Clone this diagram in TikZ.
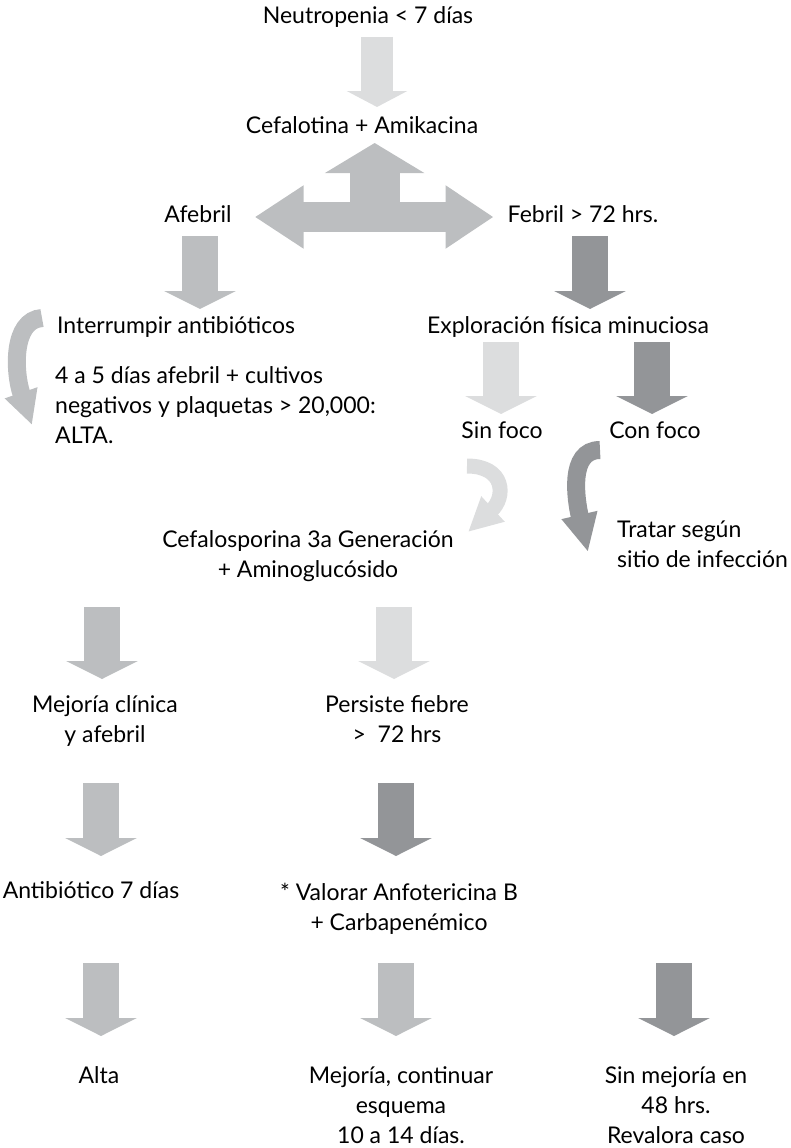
\documentclass[tikz,border=0pt]{standalone}
\usepackage{fontspec}
\setmainfont{Lato}
\usetikzlibrary{arrows.meta,positioning,calc}

\definecolor{grisclaro}{HTML}{DCDDDE}
\definecolor{grismedio}{HTML}{BCBEC0}
\definecolor{grisoscuro}{HTML}{939598}

\begin{document}
\begin{tikzpicture}[x=1pt, y=-1pt,
    texto/.style={inner sep=0pt, font=\fontsize{23}{30}\selectfont, anchor=base},
    bloque/.style={line width=36pt, -{Triangle[width=71pt,length=18pt]}},
    curva/.style={line width=16pt, -{Triangle[width=32pt,length=34pt]}}
]
    \useasboundingbox (0,0) rectangle (791,1148);

    % Texts (multi-line nodes sit on their last line)
    \node[texto] (neutro) at (368,24) {Neutropenia < 7 días};
    \node[texto] (cefa) at (362,133) {Cefalotina + Amikacina};
    \node[texto] (afebril) at (198,222) {Afebril};
    \node[texto] (febril) at (583,222) {Febril > 72 hrs.};
    \node[texto, anchor=base west] (interrumpir) at (57,333) {Interrumpir antibióticos};
    \node[texto] (exploracion) at (568,333) {Exploración física minuciosa};
    \node[texto, anchor=base west, align=left] (altauno) at (55,443) {4 a 5 días afebril + cultivos\\negativos y plaquetas > 20,000:\\ALTA.};
    \node[texto] (sinfoco) at (502,438) {Sin foco};
    \node[texto] (confoco) at (655,438) {Con foco};
    \node[texto, anchor=base west, align=left] (tratar) at (617,567) {Tratar según\\sitio de infección};
    \node[texto, align=center] (cefalosporina) at (308,577) {Cefalosporina 3a Generación\\+ Aminoglucósido};
    \node[texto, align=center] (mejoria) at (105,742) {Mejoría clínica\\y afebril};
    \node[texto, align=center] (persiste) at (397,742) {Persiste fiebre\\>~~72 hrs};
    \node[texto] (antibiotico) at (91,898) {Antibiótico 7 días};
    \node[texto, align=center] (valorar) at (399,930) {* Valorar Anfotericina B\\+ Carbapenémico};
    \node[texto] (alta) at (99,1083) {Alta};
    \node[texto, align=center] (continuar) at (401,1143) {Mejoría, continuar\\esquema\\10 a 14 días.};
    \node[texto, align=center] (sinmejoria) at (676,1143) {Sin mejoría en\\48 hrs.\\Revalora caso};

    % Top arrow
    \draw[bloque, grisclaro, line width=32pt, -{Triangle[width=60pt,length=16pt]}, shorten <=13pt, shorten >=26pt]
        ([xshift=9pt]neutro.base) -- ([xshift=9pt]neutro.base |- cefa.base);

    % T arrow
    \draw[grismedio, line width=30pt, {Triangle[width=60pt,length=49pt]}-{Triangle[width=60pt,length=48pt]}, shorten <=23pt, shorten >=14pt]
        ([yshift=5pt]afebril.base east) -- ([yshift=5pt]febril.base west);
    \coordinate (cruce) at ($(afebril.base east)!0.5!(febril.base west)+(5,-5)$);
    \draw[grismedio, line width=50pt, -{Triangle[width=98pt,length=30pt]}, shorten >=10pt]
        (cruce) -- (cruce |- cefa.base);

    % Straight arrows
    \draw[bloque, grismedio, shorten <=14pt, shorten >=24pt]
        ([xshift=2pt]afebril.base) -- ([xshift=2pt]afebril.base |- interrumpir.base);
    \draw[bloque, grisoscuro, shorten <=14pt, shorten >=24pt]
        ([xshift=7pt]febril.base) -- ([xshift=7pt]febril.base |- exploracion.base);
    \draw[bloque, grisclaro, shorten <=9pt, shorten >=24pt]
        ([xshift=-1pt]sinfoco.base |- exploracion.base) -- ([xshift=-1pt]sinfoco.base);
    \draw[bloque, grisoscuro, shorten <=9pt, shorten >=24pt]
        ([xshift=-3pt]confoco.base |- exploracion.base) -- ([xshift=-3pt]confoco.base);
    \draw[bloque, grismedio, shorten <=30pt, shorten >=63pt]
        ([xshift=-3pt]mejoria.base |- cefalosporina.base) -- ([xshift=-3pt]mejoria.base);
    \draw[bloque, grisclaro, shorten <=30pt, shorten >=63pt]
        ([xshift=-3pt]persiste.base |- cefalosporina.base) -- ([xshift=-3pt]persiste.base);
    \draw[bloque, grismedio, shorten <=41pt, shorten >=42pt]
        ([xshift=-4pt]mejoria.base) -- ([xshift=-4pt]mejoria.base |- antibiotico.base);
    \draw[bloque, grisoscuro, shorten <=41pt, shorten >=74pt]
        ([xshift=-1pt]persiste.base) -- ([xshift=-1pt]persiste.base |- valorar.base);
    \draw[bloque, grismedio, shorten <=65pt, shorten >=47pt]
        ([xshift=2pt]alta.base |- antibiotico.base) -- ([xshift=2pt]alta.base);
    \draw[bloque, grismedio, shorten <=33pt, shorten >=107pt]
        ([xshift=-5pt]continuar.base |- valorar.base) -- ([xshift=-5pt]continuar.base);
    \draw[bloque, grisoscuro, shorten <=33pt, shorten >=107pt]
        ([xshift=-2pt]sinmejoria.base |- valorar.base) -- ([xshift=-2pt]sinmejoria.base);

    % Curved arrows
    \draw[curva, grismedio, line width=18pt] ($(interrumpir.base west)+(-15,-15)$) .. controls +(-30,2) and +(-18,-53) .. ($(altauno.base west)+(-23,-18)$);
    \draw[curva, grisclaro, line width=15pt] ($(sinfoco.base)+(-35,28)$) .. controls +(38,0) and +(38,-35) .. ($(cefalosporina.base)+(160,-45)$);
    \draw[curva, grisoscuro, line width=18pt, -{Triangle[width=34pt,length=38pt]}] ($(confoco.base)+(-55,12)$) .. controls +(-32,0) and +(-12,-52) .. ($(tratar.base west)+(-29,-15)$);
\end{tikzpicture}
\end{document}
